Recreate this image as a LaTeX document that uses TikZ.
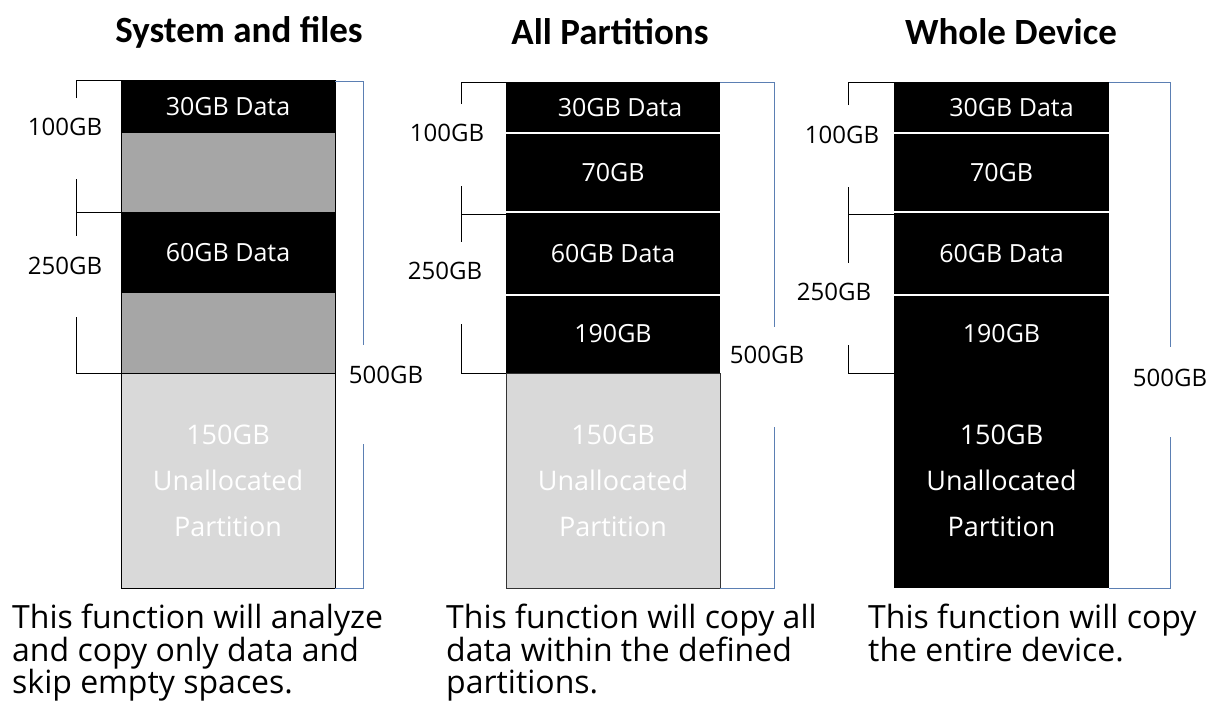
\documentclass[tikz,border=0pt]{standalone}
\usepackage{fontspec}
\setmainfont{Open Sans}
\newfontfamily\titlefont{Carlito}
\definecolor{midgray}{HTML}{A6A6A6}
\definecolor{litegray}{HTML}{D9D9D9}
\definecolor{brackblue}{HTML}{5B7FB3}
\tikzset{
  seg/.style={anchor=north west, inner sep=0pt, outer sep=0pt, draw=none, text=white,
    font=\fontsize{25}{28}\selectfont, align=center},
  seglabel/.style={seg, anchor=center},
  sizelabel/.style={inner sep=0pt, font=\fontsize{24}{27}\selectfont},
  titlelabel/.style={inner sep=0pt, font=\titlefont\bfseries\fontsize{37}{40}\selectfont},
  desc/.style={anchor=north west, inner sep=0pt, align=left, font=\fontsize{32}{32.5}\selectfont},
  unalloc/.style={seglabel, font=\fontsize{27}{46}\selectfont},
  lbrack/.style={draw=black, line width=1pt},
  rbrack/.style={draw=brackblue, line width=1pt},
  sep/.style={draw=white, line width=1.5pt}
}
\begin{document}
\begin{tikzpicture}[x=1pt,y=-1pt]
\useasboundingbox[fill=white] (0,0) rectangle (1210,704);

% titles
\node[titlelabel] (t1) at (239,32) {System and files};
\node[titlelabel] (t2) at (610,32) {All Partitions};
\node[titlelabel] (t3) at (1011,32) {Whole Device};

% ---------- Panel 1 ----------
\node[seg, fill=black, minimum width=214pt, minimum height=53pt] (a1) at (121,80) {};
\node[seg, fill=midgray, minimum width=214pt, minimum height=79pt] (a2) at (121,133) {};
\node[seg, fill=black, minimum width=214pt, minimum height=81pt] (a3) at (121,212) {};
\node[seg, fill=midgray, minimum width=214pt, minimum height=80pt] (a4) at (121,293) {};
\node[seg, fill=litegray, minimum width=214pt, minimum height=215pt] (a5) at (121,373) {};
\node[seglabel] (a1t) at (a1.center) {30GB Data};
\node[seglabel] (a3t) at (a3.center) {60GB Data};
\node[unalloc] (a5t) at (a5.center) {150GB\\Unallocated\\Partition};
\draw[line width=1pt] (a1.north west) rectangle (a5.south east);
\draw[line width=1pt] (a5.north west) -- (a5.north east);

\node[sizelabel] (a100) at (65,127) {100GB};
\node[sizelabel] (a250) at (65,266) {250GB};
\node[sizelabel] (a500) at (386,375) {500GB};
\draw[lbrack] (76,98) -- (76,80) -- (a1.north west);
\draw[lbrack] (76,179) -- (76,236);
\draw[lbrack] (76,212) -- (a3.north west);
\draw[lbrack] (76,317) -- (76,373) -- (a5.north west);
\draw[rbrack] (a1.north east) ++(0,1) -- (363,81) -- (363,345);
\draw[rbrack] (363,444) -- (363,588) -- (a5.south east);

\node[desc] (d1) at (12,604) {This function will analyze\\and copy only data and\\skip empty spaces.};

% ---------- Panel 2 ----------
\node[seg, fill=black, minimum width=214pt, minimum height=51pt] (b1) at (506,82) {};
\node[seg, fill=black, minimum width=214pt, minimum height=79pt] (b2) at (506,133) {};
\node[seg, fill=black, minimum width=214pt, minimum height=83pt] (b3) at (506,212) {};
\node[seg, fill=black, minimum width=214pt, minimum height=78pt] (b4) at (506,295) {};
\node[seg, fill=litegray, minimum width=214pt, minimum height=215pt] (b5) at (506,373) {};
\node[seglabel, xshift=7pt] (b1t) at (b1.center) {30GB Data};
\node[seglabel] (b2t) at (b2.center) {70GB};
\node[seglabel] (b3t) at (b3.center) {60GB Data};
\node[seglabel] (b4t) at (b4.center) {190GB};
\node[unalloc] (b5t) at (b5.center) {150GB\\Unallocated\\Partition};
\draw[sep] (b2.north west) -- (b2.north east);
\draw[sep] (b3.north west) -- (b3.north east);
\draw[sep] (b4.north west) -- (b4.north east);
\draw[line width=1pt, draw=black!80] (b5.north west) rectangle (b5.south east);

\node[sizelabel] (b100) at (447,133) {100GB};
\node[sizelabel] (b250) at (445,271) {250GB};
\node[sizelabel] (b500) at (767,355) {500GB};
\draw[lbrack] (461,104) -- (461,82) -- (b1.north west);
\draw[lbrack] (461,186) -- (461,242);
\draw[lbrack] (461,214) -- (506,214);
\draw[lbrack] (461,324) -- (461,373) -- (b5.north west);
\draw[rbrack] (b1.north east) -- (774,82) -- (774,327);
\draw[rbrack] (774,427) -- (774,588) -- (b5.south east);

\node[desc] (d2) at (446,604) {This function will copy all\\data within the defined\\partitions.};

% ---------- Panel 3 ----------
\node[seg, fill=black, minimum width=215pt, minimum height=51pt] (c1) at (894,82) {};
\node[seg, fill=black, minimum width=215pt, minimum height=79pt] (c2) at (894,133) {};
\node[seg, fill=black, minimum width=215pt, minimum height=83pt] (c3) at (894,212) {};
\node[seg, fill=black, minimum width=215pt, minimum height=78pt] (c4) at (894,295) {};
\node[seg, fill=black, minimum width=215pt, minimum height=215pt] (c5) at (894,373) {};
\node[seglabel, xshift=10pt] (c1t) at (c1.center) {30GB Data};
\node[seglabel] (c2t) at (c2.center) {70GB};
\node[seglabel] (c3t) at (c3.center) {60GB Data};
\node[seglabel] (c4t) at (c4.center) {190GB};
\node[unalloc] (c5t) at (c5.center) {150GB\\Unallocated\\Partition};
\draw[sep] (c2.north west) -- (c2.north east);
\draw[sep] (c3.north west) -- (c3.north east);
\draw[sep] (c4.north west) -- (c4.north east);

\node[sizelabel] (c100) at (842,135) {100GB};
\node[sizelabel] (c250) at (834,292) {250GB};
\node[sizelabel] (c500) at (1170,378) {500GB};
\draw[lbrack] (848,105) -- (848,82) -- (c1.north west);
\draw[lbrack] (848,187) -- (848,263);
\draw[lbrack] (848,214) -- (894,214);
\draw[lbrack] (848,345) -- (848,373) -- (c5.north west);
\draw[rbrack] (c1.north east) -- (1170,82) -- (1170,347);
\draw[rbrack] (1170,437) -- (1170,588) -- (c5.south east);

\node[desc] (d3) at (868,604) {This function will copy\\the entire device.};
\end{tikzpicture}
\end{document}
